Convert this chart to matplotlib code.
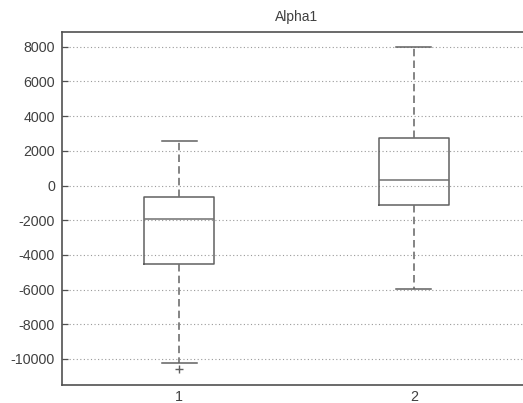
import matplotlib
matplotlib.use("Agg")
import matplotlib.pyplot as plt

# box statistics per group
labels = ["1", "2"]
whislo = [-10236, -5971]
q1 = [-4496, -1112]
med = [-1937, 311]
q3 = [-634, 2732]
whishi = [2576, 8012]
fliers = [[-10582], []]

yticks = [-10000, -8000, -6000, -4000, -2000, 0, 2000, 4000, 6000, 8000]

plt.rcParams['font.family'] = ['Liberation Sans', 'DejaVu Sans']
plt.rcParams['font.size'] = 10.3

txt = '#404040'
fig = plt.figure(figsize=(5.23, 4.03), dpi=100)
ax = fig.add_axes([0.1185, 0.0459, 0.897, 0.8754])

stats = []
for i in range(len(labels)):
    stats.append(dict(label=labels[i], whislo=whislo[i], q1=q1[i], med=med[i],
                      q3=q3[i], whishi=whishi[i], fliers=fliers[i]))

ax.bxp(stats, positions=[1, 2], widths=0.3, showfliers=True,
       boxprops=dict(color='#606060', linewidth=1.1),
       medianprops=dict(color='#707070', linewidth=1.1),
       whiskerprops=dict(color='#707070', linewidth=1.2, linestyle=(0, (4.5, 2.5))),
       capprops=dict(color='#606060', linewidth=1.1),
       flierprops=dict(marker='+', markersize=5.5, markeredgecolor='#606060',
                       markeredgewidth=1.0, linestyle='none'))

ax.set_xlim(0.5, 2.5)
ax.set_ylim(-11470, 8865)
ax.set_yticks(yticks)
ax.set_yticklabels([str(t) for t in yticks])
ax.yaxis.grid(True, linestyle=(0, (1, 2.2)), color='#9a9a9a', linewidth=0.8)
ax.set_axisbelow(True)

for s in ax.spines.values():
    s.set_color('#505050')
    s.set_linewidth(1.2)

ax.tick_params(direction='in', length=4, width=0.9, colors='#505050',
               labelcolor=txt, pad=5)
ax.tick_params(axis='x', length=0, pad=4)

ax.set_title('Alpha1', fontsize=10, color=txt, pad=7.5)

fig.savefig('out.png', dpi=100)
